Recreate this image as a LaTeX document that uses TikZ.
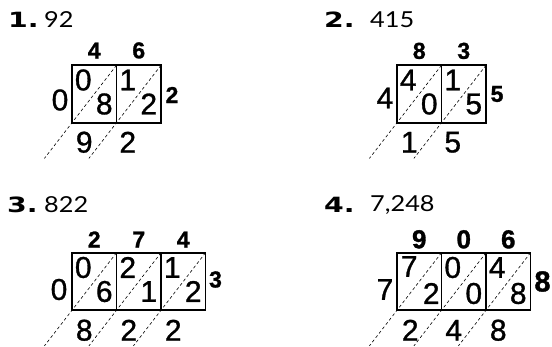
\documentclass[tikz,border=0pt]{standalone}
\usepackage{fontspec}
\setmainfont{Liberation Sans}
\newfontfamily\digfont{Liberation Sans}[FakeBold=1]
\newfontfamily\rimfont{Liberation Sans Bold}[FakeBold=1.2]
\newfontfamily\hdfont{Lato}[FakeStretch=1.15]
\newfontfamily\lblfont{DejaVu Sans Bold}[FakeStretch=1.35]
\usetikzlibrary{calc,positioning}

\begin{document}
\begin{tikzpicture}[x=1pt, y=-1pt,
  cell/.style={draw, line width=1.6pt, inner sep=0pt, outer sep=0pt,
    minimum width=44.5pt, minimum height=57.5pt},
  dig/.style={inner sep=0pt, font=\digfont\fontsize{30}{30}\selectfont},
  rim/.style={inner sep=0pt, font=\rimfont\fontsize{23}{23}\selectfont},
  bigrim/.style={inner sep=0pt, font=\rimfont\fontsize{26}{26}\selectfont},
  label/.style={inner sep=0pt, anchor=west, font=\lblfont\fontsize{21}{21}\selectfont},
  value/.style={inner sep=0pt, anchor=west, font=\hdfont\fontsize{22}{22}\selectfont},
  diag/.style={line width=0.6pt, dash pattern=on 3pt off 2.5pt}]
\useasboundingbox (0,0) rectangle (552,347);

  % Problem 1
  \node[label] (A0) at (8,20) {1.};
  \node[value] (Av) at (44,20) {92};
  \node[cell] (A1) at (94.25,94) {};
  \node[cell, right=0pt of A1] (A2) {};
  \coordinate (A1e) at ($(A1.north east)!1.62!(A1.south west)$);
  \coordinate (A2e) at ($(A2.north east)!1.62!(A2.south west)$);
  \draw[diag] (A1.north east) -- (A1e);
  \draw[diag] (A2.north east) -- (A2e);
  \node[rim, above=6.5pt of A1] (A1t) {4};
  \node[rim, above=6.5pt of A2] (A2t) {6};
  \node[dig] (A1u) at ($(A1.center)+(-11,-14)$) {0};
  \node[dig] (A1l) at ($(A1.center)+(10,10)$) {8};
  \node[dig] (A2u) at ($(A2.center)+(-11,-14)$) {1};
  \node[dig] (A2l) at ($(A2.center)+(10,10)$) {2};
  \node[dig] (Al) at ($(A1.west)+(-12,6)$) {0};
  \node[rim] (Ar) at ($(A2.east)+(11,1)$) {2};
  \node[dig] (A1b) at ($(A1.south)+(-10,19.5)$) {9};
  \node[dig] (A2b) at ($(A2.south)+(-11,19.5)$) {2};

  % Problem 2
  \node[label] (B0) at (324,20) {2.};
  \node[value] (Bv) at (370,20) {415};
  \node[cell] (B1) at (419.25,94) {};
  \node[cell, right=0pt of B1] (B2) {};
  \coordinate (B1e) at ($(B1.north east)!1.62!(B1.south west)$);
  \coordinate (B2e) at ($(B2.north east)!1.62!(B2.south west)$);
  \draw[diag] (B1.north east) -- (B1e);
  \draw[diag] (B2.north east) -- (B2e);
  \node[rim, above=6pt of B1] (B1t) {8};
  \node[rim, above=6pt of B2] (B2t) {3};
  \node[dig] (B1u) at ($(B1.center)+(-11,-14)$) {4};
  \node[dig] (B1l) at ($(B1.center)+(10,10)$) {0};
  \node[dig] (B2u) at ($(B2.center)+(-11,-14)$) {1};
  \node[dig] (B2l) at ($(B2.center)+(10,10)$) {5};
  \node[dig] (Bl) at ($(B1.west)+(-12,4)$) {4};
  \node[rim] (Br) at ($(B2.east)+(11,0)$) {5};
  \node[dig] (B1b) at ($(B1.south)+(-10,19.5)$) {1};
  \node[dig] (B2b) at ($(B2.south)+(-11,19.5)$) {5};

  % Problem 3
  \node[label] (C0) at (7,205) {3.};
  \node[value] (Cv) at (44,205) {822};
  \node[cell] (C1) at (94.25,281.5) {};
  \node[cell, right=0pt of C1] (C2) {};
  \node[cell, right=0pt of C2] (C3) {};
  \coordinate (C1e) at ($(C1.north east)!1.62!(C1.south west)$);
  \coordinate (C2e) at ($(C2.north east)!1.62!(C2.south west)$);
  \coordinate (C3e) at ($(C3.north east)!1.62!(C3.south west)$);
  \draw[diag] (C1.north east) -- (C1e);
  \draw[diag] (C2.north east) -- (C2e);
  \draw[diag] (C3.north east) -- (C3e);
  \node[rim, above=5pt of C1] (C1t) {2};
  \node[rim, above=5pt of C2] (C2t) {7};
  \node[rim, above=5pt of C3] (C3t) {4};
  \node[dig] (C1u) at ($(C1.center)+(-11,-14)$) {0};
  \node[dig] (C1l) at ($(C1.center)+(10,10)$) {6};
  \node[dig] (C2u) at ($(C2.center)+(-11,-14)$) {2};
  \node[dig] (C2l) at ($(C2.center)+(10,10)$) {1};
  \node[dig] (C3u) at ($(C3.center)+(-11,-14)$) {1};
  \node[dig] (C3l) at ($(C3.center)+(10,10)$) {2};
  \node[dig] (Cl) at ($(C1.west)+(-13,8)$) {0};
  \node[rim] (Cr) at ($(C3.east)+(10,-2)$) {3};
  \node[dig] (C1b) at ($(C1.south)+(-10,20)$) {8};
  \node[dig] (C2b) at ($(C2.south)+(-10,20)$) {2};
  \node[dig] (C3b) at ($(C3.south)+(-10,20)$) {2};

  % Problem 4
  \node[label] (D0) at (324,205) {4.};
  \node[value] (Dv) at (370,205) {7,248};
  \node[cell] (D1) at (419.25,281.5) {};
  \node[cell, right=0pt of D1] (D2) {};
  \node[cell, right=0pt of D2] (D3) {};
  \coordinate (D1e) at ($(D1.north east)!1.62!(D1.south west)$);
  \coordinate (D2e) at ($(D2.north east)!1.62!(D2.south west)$);
  \coordinate (D3e) at ($(D3.north east)!1.62!(D3.south west)$);
  \draw[diag] (D1.north east) -- (D1e);
  \draw[diag] (D2.north east) -- (D2e);
  \draw[diag] (D3.north east) -- (D3e);
  \node[bigrim, above=4pt of D1] (D1t) {9};
  \node[bigrim, above=4pt of D2] (D2t) {0};
  \node[bigrim, above=4pt of D3] (D3t) {6};
  \node[dig] (D1u) at ($(D1.center)+(-10,-15)$) {7};
  \node[dig] (D1l) at ($(D1.center)+(12,12)$) {2};
  \node[dig] (D2u) at ($(D2.center)+(-11,-14)$) {0};
  \node[dig] (D2l) at ($(D2.center)+(10,12)$) {0};
  \node[dig] (D3u) at ($(D3.center)+(-11,-14)$) {4};
  \node[dig] (D3l) at ($(D3.center)+(10,12)$) {8};
  \node[dig] (Dl) at ($(D1.west)+(-12,8)$) {7};
  \node[bigrim, font=\rimfont\fontsize{29}{29}\selectfont] (Dr) at ($(D3.east)+(12,0)$) {8};
  \node[dig] (D1b) at ($(D1.south)+(-9,20)$) {2};
  \node[dig] (D2b) at ($(D2.south)+(-10,20)$) {4};
  \node[dig] (D3b) at ($(D3.south)+(-10,20)$) {8};
\end{tikzpicture}
\end{document}
